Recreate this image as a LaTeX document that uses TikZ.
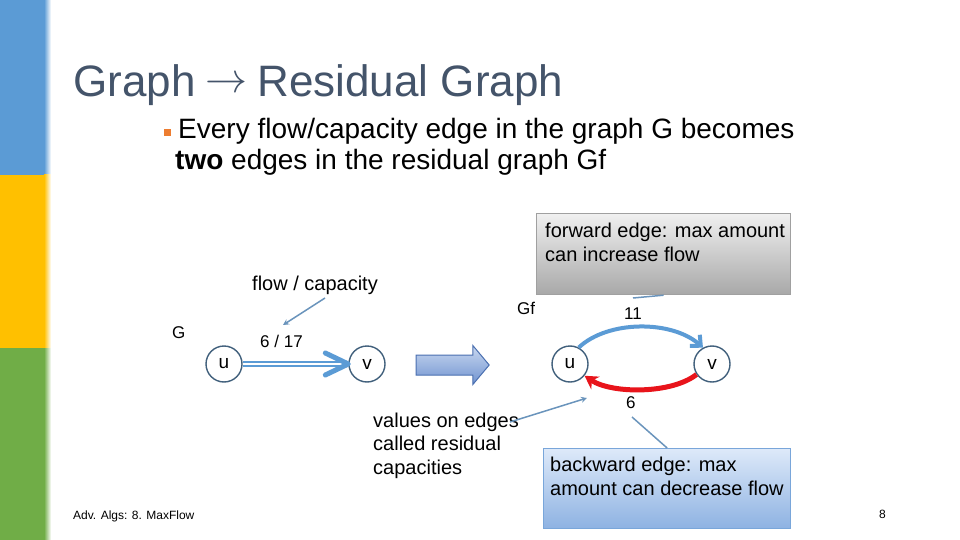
\documentclass[tikz,border=0pt]{standalone}
\usepackage{fontspec}
\usepackage{graphicx}
\setmainfont{Liberation Sans}
\usetikzlibrary{arrows.meta,shapes.arrows}
\definecolor{barblue}{HTML}{5B9BD5}
\definecolor{baryellow}{HTML}{FFC000}
\definecolor{bargreen}{HTML}{70AD47}
\definecolor{titlec}{HTML}{44546A}
\definecolor{bulletc}{HTML}{ED7D31}
\definecolor{nodec}{HTML}{41607C}
\definecolor{edgeblue}{HTML}{5B9BD5}
\definecolor{edgered}{HTML}{E8141B}
\definecolor{ptrc}{HTML}{6A94BC}
\definecolor{fwdtop}{HTML}{F0F0F0}
\definecolor{fwdbot}{HTML}{A8A8A8}
\definecolor{fwdborder}{HTML}{A0A0A0}
\definecolor{bwdtop}{HTML}{DDE9F9}
\definecolor{bwdbot}{HTML}{8DB2E2}
\definecolor{bwdborder}{HTML}{79A6DA}
\definecolor{arrtop}{HTML}{C9D8F0}
\definecolor{arrbot}{HTML}{7093D0}
\definecolor{arrborder}{HTML}{4A6FB0}
\begin{document}
\begin{tikzpicture}[x=1pt,y=-1pt,
  txt/.style={inner sep=0pt, anchor=base west, font=\fontsize{20}{24}\selectfont},
  lbl/.style={inner sep=0pt, anchor=base west, font=\fontsize{17}{20}\selectfont},
  vert/.style={circle, draw=nodec, line width=1.4pt, minimum size=36pt, inner sep=0pt, font=\fontsize{19}{20}\selectfont},
  ptr/.style={draw=ptrc, line width=1.5pt},
  ptrarrow/.style={ptr, -{Stealth[length=6pt,width=6pt]}},
  gedge/.style={draw=edgeblue, double=white, line width=2pt, double distance=2.5pt},
  chev/.style={draw=edgeblue, line width=5pt, line join=round, line cap=round},
  fedge/.style={draw=edgeblue, line width=4pt, -{Straight Barb[length=8pt,width=15pt]}},
  redge/.style={draw=edgered, line width=5pt, -{Stealth[length=13pt,width=15pt]}},
  fwdbox/.style={rectangle, draw=fwdborder, line width=1.2pt, top color=fwdtop, bottom color=fwdbot, minimum width=254pt, minimum height=81pt, inner sep=0pt, anchor=north west},
  bwdbox/.style={rectangle, draw=bwdborder, line width=1.2pt, top color=bwdtop, bottom color=bwdbot, minimum width=247pt, minimum height=80pt, inner sep=0pt, anchor=north west},
  blockarrow/.style={single arrow, draw=arrborder, line width=1pt, top color=arrtop, bottom color=arrbot, minimum height=73pt, single arrow head extend=9.5pt, single arrow tip angle=100, inner sep=0pt}
]
\useasboundingbox (0,0) rectangle (960,540);
\fill[white] (0,0) rectangle (960,540);
% side bars
\fill[barblue] (0,0) rectangle (44,175);
\shade[left color=barblue, right color=white] (44,0) rectangle (51,175);
\fill[baryellow] (0,175) rectangle (44,348);
\shade[left color=baryellow, right color=white] (44,175) rectangle (51,348);
\fill[bargreen] (0,348) rectangle (44,540);
\shade[left color=bargreen, right color=white] (44,348) rectangle (51,540);

% title
\node[inner sep=0pt, anchor=base west, text=titlec, font=\fontsize{44}{50}\selectfont] (title) at (73,97) {Graph\hspace{10pt}\raisebox{4pt}{\resizebox{42pt}{!}{$\rightarrow$}}\hspace{10pt}Residual Graph};
% bullet
\fill[bulletc] (164,129) rectangle (171,136);
\node[inner sep=0pt, anchor=base west, font=\fontsize{28}{31}\selectfont] (bl1) at (178,139) {Every flow/capacity edge in the graph G becomes};
\node[inner sep=0pt, anchor=base west, font=\fontsize{28}{31}\selectfont] (bl2) at (175,170) {\textbf{two} edges in the residual graph Gf};

% pointer lines (behind boxes)
\coordinate (fp) at (633,298);
\coordinate (bp) at (632,417);
\coordinate (fcs) at (325,298);
\coordinate (fce) at (283,325);
\coordinate (vs) at (510,422);
\coordinate (ve) at (587,398);

% boxes
\node[fwdbox] (fwd) at (536,213) {};
\node[bwdbox] (bwd) at (543,448) {};
\draw[ptr] (fp) -- (fwd.south);
\draw[ptr] (bp) -- (bwd.north);
\node[txt] (fwdt1) at (545,237) {forward edge: max amount};
\node[txt] (fwdt2) at (545,261) {can increase flow};
\node[txt] (bwdt1) at (550,471) {backward edge: max};
\node[txt] (bwdt2) at (550,495) {amount can decrease flow};

% G graph
\node[txt] (fc) at (252,290) {flow / capacity};
\draw[ptrarrow] (fcs) -- (fce);
\node[lbl] (G) at (172,338) {G};
\node[lbl] (w) at (260,347) {6 / 17};
\node[vert] (u1) at (224,364) {u};
\node[vert] (v1) at (367,364) {v};
\draw[gedge] (u1.east) -- (v1.west);
\draw[chev] ([shift={(-23,-11)}]v1.west) -- (v1.west) -- ([shift={(-23,11)}]v1.west);

% block arrow
\node[blockarrow] (ba) at (448.5,365) {\rule{0pt}{19pt}};

% Gf graph
\node[lbl] (Gf) at (517,314) {Gf};
\node[lbl] (l11) at (624,319) {11};
\node[vert] (u2) at (570,364) {u};
\node[vert] (v2) at (712,364) {v};
\draw[fedge] (u2.62) .. controls (608,320) and (672,320) .. (v2.119);
\draw[redge] (v2.214) .. controls (672,394) and (612,394) .. (u2.321);
\node[lbl] (l6) at (626,408) {6};

% values text
\node[txt] (val1) at (373,427) {values on edges};
\node[txt] (val2) at (373,450) {called residual};
\node[txt] (val3) at (373,474) {capacities};
\draw[ptrarrow] (vs) -- (ve);

% footer
\node[inner sep=0pt, anchor=base west, font=\fontsize{12}{14}\selectfont] (foot) at (73,519) {Adv. Algs: 8. MaxFlow};
\node[inner sep=0pt, anchor=base west, font=\fontsize{12}{14}\selectfont] (pg) at (879,518) {8};
\end{tikzpicture}
\end{document}
